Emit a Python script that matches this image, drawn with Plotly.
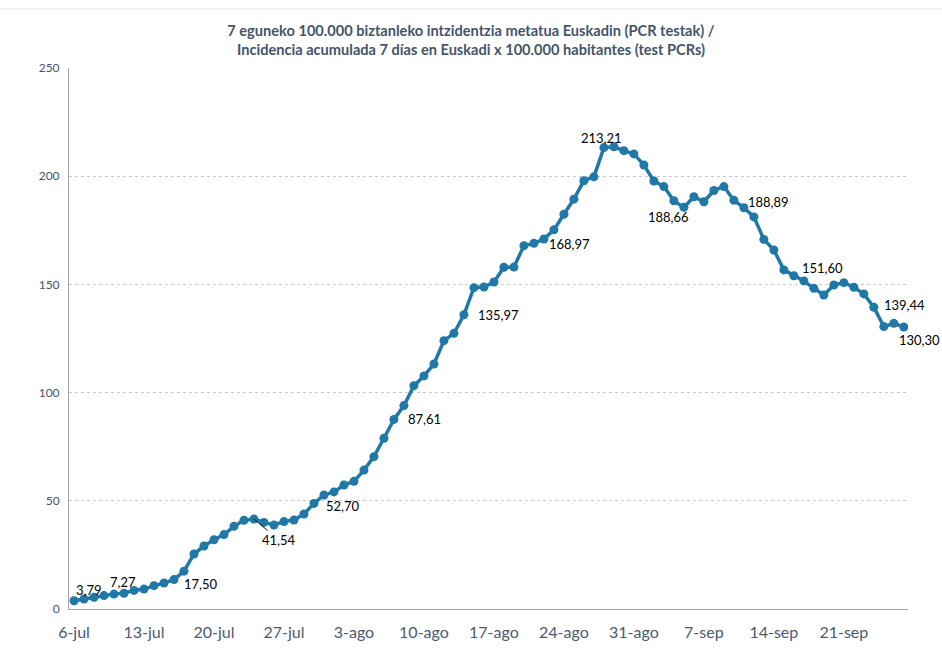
import pandas as pd
import plotly.graph_objects as go

# ---- data ----
start_date = "2020-07-06"
incidence = [3.79, 4.6, 5.4, 6.2, 6.9, 7.27, 8.6, 9.2, 10.8, 12.0, 13.6, 17.50,
             25.4, 29.1, 32.0, 34.4, 38.2, 41.0, 41.54,
             40.0, 38.8, 40.4, 41.1, 43.9, 48.8, 52.70,
             54.1, 57.3, 59.0, 64.2, 70.4, 78.9, 87.61,
             94.0, 103.2, 107.7, 113.2, 124.0, 127.4, 135.97,
             148.5, 148.8, 151.1, 157.9, 158.0, 167.9, 168.97,
             171.0, 175.2, 182.4, 189.4, 197.9, 199.7, 213.21,
             213.6, 211.8, 210.3, 205.2, 197.8, 195.2, 188.66,
             185.6, 190.5, 188.2, 193.4, 195.2, 188.89,
             185.4, 181.2, 170.8, 165.9, 156.7, 154.0, 151.60,
             148.2, 145.1, 149.7, 150.8, 148.7, 145.6, 139.44,
             130.5, 132.0, 130.30]
labelled_idx = [0, 5, 11, 18, 25, 32, 39, 46, 53, 60, 66, 73, 80, 83]
tick_labels = ["6-jul", "13-jul", "20-jul", "27-jul", "3-ago", "10-ago",
               "17-ago", "24-ago", "31-ago", "7-sep", "14-sep", "21-sep"]
title_text = ("7 eguneko 100.000 biztanleko intzidentzia metatua Euskadin (PCR testak) /<br>"
              "Incidencia acumulada 7 días en Euskadi x 100.000 habitantes (test PCRs)")

dates = pd.date_range(start_date, periods=len(incidence), freq="D")

# ---- styles ----
LINE_COLOR = "#1F78A6"
AXIS_TEXT = "#44546A"
FONT = "Lato"
# label offsets (px): dx right, dy up
label_offsets = {0: (15, 11), 5: (-1, 11), 11: (17, -13), 25: (19, -11),
                 32: (31, 0), 39: (35, 0), 46: (36, -1), 53: (-2, 10),
                 60: (-5, -16), 66: (35, -2), 73: (19, 13), 80: (31, 2),
                 83: (16, -13)}
leader_labels = {18: (25, 21)}

fig = go.Figure()
fig.add_trace(go.Scatter(
    x=dates, y=incidence, mode="lines+markers",
    line=dict(color=LINE_COLOR, width=3.5),
    marker=dict(color=LINE_COLOR, size=9),
    hoverinfo="x+y", showlegend=False,
))

def fmt(v):
    return f"{v:.2f}".replace(".", ",")

annotations = []
for i in labelled_idx:
    if i in leader_labels:
        ax, ay = leader_labels[i]
        annotations.append(dict(
            x=dates[i], y=incidence[i], text=fmt(incidence[i]),
            showarrow=True, arrowhead=0, arrowwidth=0.9, arrowcolor="#000000",
            ax=ax, ay=ay, standoff=0, font=dict(family=FONT, size=13, color="#000000"),
        ))
    else:
        dx, dy = label_offsets[i]
        annotations.append(dict(
            x=dates[i], y=incidence[i], text=fmt(incidence[i]),
            showarrow=False, xshift=dx, yshift=dy,
            font=dict(family=FONT, size=13, color="#000000"),
        ))

x_range = [dates[0] - pd.Timedelta(hours=12), dates[-1] + pd.Timedelta(hours=10)]

fig.update_layout(
    width=942, height=648,
    margin=dict(l=69, r=34, t=68, b=39, autoexpand=False),
    paper_bgcolor="white", plot_bgcolor="white",
    font=dict(family=FONT, color=AXIS_TEXT),
    title=dict(text=f"<b>{title_text}</b>", x=0.5, xanchor="center",
               y=1 - 36 / 648, yref="container", yanchor="middle",
               font=dict(family=FONT, size=14.6, color=AXIS_TEXT)),
    xaxis=dict(
        type="date", range=x_range, automargin=False,
        tickvals=dates[::7], ticktext=tick_labels,
        showgrid=False, showline=True, linecolor="#A6A6A6", linewidth=1,
        ticks="", ticklabelstandoff=9,
        tickfont=dict(family=FONT, size=16, color="#4A5A70"),
        zeroline=False,
    ),
    yaxis=dict(
        range=[0, 250], tickvals=[0, 50, 100, 150, 200, 250], automargin=False,
        showgrid=True, gridcolor="#C8C8C8", griddash="dot", gridwidth=1,
        showline=True, linecolor="#A6A6A6", linewidth=1,
        ticks="", ticklabelstandoff=6, zeroline=False,
        tickfont=dict(family=FONT, size=12, color=AXIS_TEXT),
    ),
    annotations=annotations,
    shapes=[dict(type="line", xref="paper", yref="paper",
                 x0=-69 / 839, x1=(942 - 69) / 839,
                 y0=(609 - 9) / 541, y1=(609 - 9) / 541,
                 line=dict(color="#E4E4E4", width=1))],
)

fig.write_html("out.html", config={"displayModeBar": False},
               post_script="document.body.style.margin='0';document.body.style.overflow='hidden';")
